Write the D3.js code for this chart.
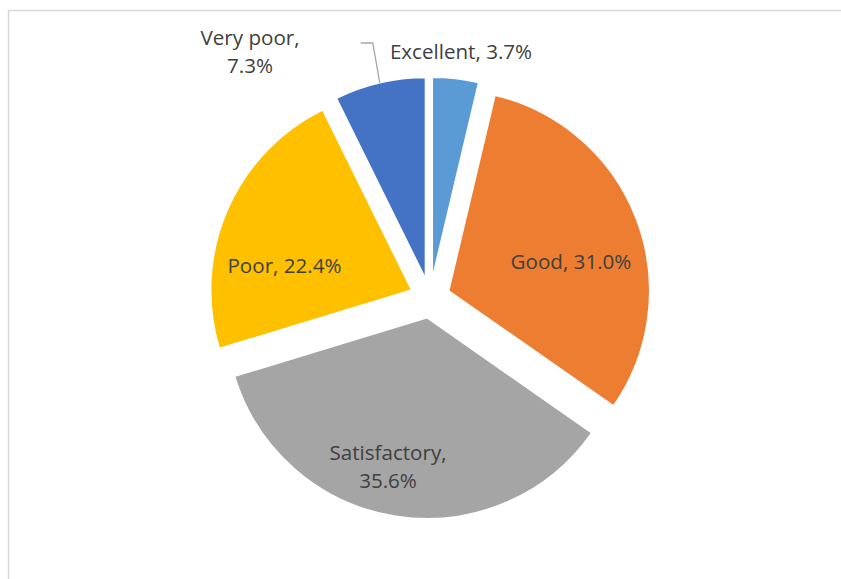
<!DOCTYPE html>
<html>
<head>
<meta charset="utf-8">
<script src="https://cdn.jsdelivr.net/npm/d3@7"></script>
<style>
  html, body { margin: 0; padding: 0; background: #ffffff; }
  svg { display: block; }
  text { font-family: "Open Sans", "Liberation Sans", sans-serif; }
</style>
</head>
<body>
<svg id="chart" width="841" height="579"></svg>
<script>
// Self-rated condition, share of responses (%)
const categories = ["Excellent", "Good", "Satisfactory", "Poor", "Very poor"];
const shares = [3.7, 31.0, 35.6, 22.4, 7.3];
const colors = ["#5B9BD5", "#ED7D31", "#A5A5A5", "#FFC000", "#4472C4"];

// Layout
const W = 841, H = 579;
const cx = 430, cy = 298;      // pie centre
const radius = 201;
const explode = 20;            // distance each slice is pulled out along its bisector

// Label anchors relative to the pie centre: [dx, dy of first baseline], lines
const labelLayout = {
  "Excellent":    { at: [31, -239], breakAfterComma: false },
  "Good":         { at: [141, -29],  breakAfterComma: false },
  "Satisfactory": { at: [-42, 162],  breakAfterComma: true },
  "Poor":         { at: [-145.5, -25], breakAfterComma: false },
  "Very poor":    { at: [-180, -253], breakAfterComma: true }
};

const svg = d3.select("#chart");

// Chart area frame
svg.append("rect")
  .attr("x", 8.5).attr("y", 10.5)
  .attr("width", W + 20).attr("height", H + 20)
  .attr("fill", "#ffffff")
  .attr("stroke", "#D9D9D9")
  .attr("stroke-width", 1.5);

const data = categories.map((c, i) => ({ name: c, value: shares[i], color: colors[i] }));

const pie = d3.pie().value(d => d.value).sort(null);
const arcs = pie(data);
const arc = d3.arc().innerRadius(0).outerRadius(radius);

function offsetOf(a) {
  const mid = (a.startAngle + a.endAngle) / 2;
  return [Math.sin(mid) * explode, -Math.cos(mid) * explode];
}

const g = svg.append("g").attr("transform", `translate(${cx},${cy})`);

g.selectAll("path.slice")
  .data(arcs)
  .join("path")
  .attr("class", "slice")
  .attr("transform", d => { const o = offsetOf(d); return `translate(${o[0]},${o[1]})`; })
  .attr("d", arc)
  .attr("fill", d => d.data.color)
  .attr("stroke", "#ffffff")
  .attr("stroke-width", 1.5)
  .attr("stroke-linejoin", "miter");

// Leader line from the "Very poor" slice edge
const vp = arcs[categories.indexOf("Very poor")];
{
  const o = offsetOf(vp);
  const mid = (vp.startAngle + vp.endAngle) / 2;
  const px = o[0] + Math.sin(mid) * radius;
  const py = o[1] - Math.cos(mid) * radius;
  const elbowY = -255;
  g.append("polyline")
    .attr("points", [[px, py], [px - 7, elbowY], [px - 19, elbowY]].map(p => p.join(",")).join(" "))
    .attr("fill", "none")
    .attr("stroke", "#A6A6A6")
    .attr("stroke-width", 1.3);
}

// Data labels
const labels = g.append("g").attr("fill", "#404040").attr("font-size", 20.6);
arcs.forEach(a => {
  const name = a.data.name;
  const lay = labelLayout[name];
  const pct = a.data.value.toFixed(1) + "%";
  const lines = lay.breakAfterComma ? [name + ",", pct] : [name + ", " + pct];
  const t = labels.append("text")
    .attr("text-anchor", "middle")
    .attr("x", lay.at[0])
    .attr("y", lay.at[1]);
  lines.forEach((ln, i) => {
    t.append("tspan")
      .attr("x", lay.at[0])
      .attr("dy", i === 0 ? 0 : 28)
      .text(ln);
  });
});
</script>
</body>
</html>
